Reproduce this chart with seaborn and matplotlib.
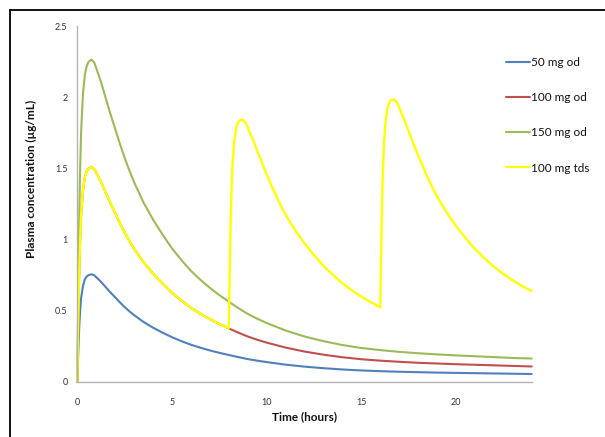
import matplotlib
matplotlib.use("Agg")
import matplotlib.pyplot as plt
from matplotlib.lines import Line2D
import seaborn as sns
import pandas as pd

# ---- data ----
series_names = ["50 mg od", "100 mg od", "150 mg od", "100 mg tds"]
series_colors = ["#4f81bd", "#c0504d", "#9bbb59", "#ffff00"]

time_od = [0, 0.05, 0.1, 0.15, 0.2, 0.3, 0.4, 0.5, 0.6, 0.75, 0.9, 1, 1.25, 1.5, 1.75,
           2, 2.25, 2.5, 2.75, 3, 3.5, 4, 4.5, 5, 5.5, 6, 6.5, 7, 7.5, 8, 8.5, 9, 9.5,
           10, 11, 12, 13, 14, 15, 16, 17, 18, 19, 20, 21, 22, 23, 24]
conc_50_od = [0, 0.2, 0.38, 0.5, 0.585, 0.675, 0.72, 0.74, 0.75, 0.755, 0.748, 0.735,
              0.703, 0.665, 0.628, 0.593, 0.558, 0.525, 0.495, 0.468, 0.42, 0.38, 0.345,
              0.313, 0.285, 0.26, 0.239, 0.22, 0.203, 0.188, 0.173, 0.159, 0.148, 0.138,
              0.12, 0.106, 0.095, 0.086, 0.079, 0.074, 0.07, 0.067, 0.064, 0.062, 0.06,
              0.058, 0.056, 0.054]
conc_100_od = [0, 0.4, 0.76, 1.0, 1.17, 1.35, 1.44, 1.48, 1.50, 1.51, 1.495, 1.47, 1.405,
               1.33, 1.255, 1.185, 1.115, 1.05, 0.99, 0.935, 0.84, 0.76, 0.69, 0.625,
               0.57, 0.52, 0.478, 0.44, 0.406, 0.375, 0.345, 0.318, 0.295, 0.275, 0.24,
               0.212, 0.19, 0.172, 0.158, 0.148, 0.14, 0.133, 0.128, 0.123, 0.119, 0.115,
               0.111, 0.107]
conc_150_od = [0, 0.6, 1.14, 1.5, 1.755, 2.025, 2.16, 2.22, 2.25, 2.265, 2.243, 2.205,
               2.108, 1.995, 1.883, 1.778, 1.673, 1.575, 1.485, 1.403, 1.26, 1.14, 1.035,
               0.938, 0.855, 0.78, 0.717, 0.66, 0.609, 0.563, 0.518, 0.477, 0.443, 0.413,
               0.36, 0.318, 0.285, 0.258, 0.237, 0.222, 0.21, 0.2, 0.192, 0.185, 0.179,
               0.173, 0.167, 0.163]

time_tds = [0, 0.05, 0.1, 0.15, 0.2, 0.3, 0.4, 0.5, 0.6, 0.75, 0.9, 1, 1.25, 1.5, 1.75,
            2, 2.25, 2.5, 2.75, 3, 3.5, 4, 4.5, 5, 5.5, 6, 6.5, 7, 7.5, 8,
            8.05, 8.1, 8.15, 8.2, 8.3, 8.4, 8.5, 8.6, 8.75, 8.9, 9, 9.25, 9.5, 9.75, 10,
            10.25, 10.5, 10.75, 11, 11.5, 12, 12.5, 13, 13.5, 14, 14.5, 15, 15.5, 16,
            16.05, 16.1, 16.15, 16.2, 16.3, 16.4, 16.5, 16.6, 16.75, 16.9, 17, 17.25,
            17.5, 17.75, 18, 18.25, 18.5, 18.75, 19, 19.5, 20, 20.5, 21, 21.5, 22, 22.5,
            23, 23.5, 24]
conc_100_tds = [0, 0.4, 0.76, 1.0, 1.17, 1.35, 1.44, 1.48, 1.50, 1.51, 1.495, 1.47, 1.405,
                1.33, 1.255, 1.185, 1.115, 1.05, 0.99, 0.935, 0.84, 0.76, 0.69, 0.625,
                0.57, 0.52, 0.478, 0.44, 0.406, 0.375,
                0.772, 1.129, 1.366, 1.533, 1.707, 1.791, 1.825, 1.84, 1.842, 1.819,
                1.788, 1.711, 1.625, 1.54, 1.46, 1.381, 1.307, 1.238, 1.175, 1.066, 0.972,
                0.891, 0.815, 0.751, 0.692, 0.643, 0.598, 0.559, 0.523,
                0.92, 1.276, 1.513, 1.679, 1.853, 1.936, 1.969, 1.983, 1.984, 1.96, 1.928,
                1.849, 1.762, 1.675, 1.593, 1.513, 1.438, 1.367, 1.303, 1.192, 1.095,
                1.012, 0.934, 0.868, 0.809, 0.758, 0.712, 0.672, 0.638]

x_ticks = [0, 5, 10, 15, 20]
y_ticks = [0, 0.5, 1, 1.5, 2, 2.5]
y_tick_labels = ["0", "0.5", "1", "1.5", "2", "2.5"]

# ---- build long table ----
frames = []
for name, t, c in [(series_names[0], time_od, conc_50_od),
                   (series_names[1], time_od, conc_100_od),
                   (series_names[2], time_od, conc_150_od),
                   (series_names[3], time_tds, conc_100_tds)]:
    frames.append(pd.DataFrame({"time": t, "conc": c, "regimen": name}))
df = pd.concat(frames, ignore_index=True)

sns.set_theme(style="white")
plt.rcParams["font.family"] = ["Lato", "DejaVu Sans"]

fig = plt.figure(figsize=(6.05, 4.37), dpi=100)
W, H = 605, 437
ax = fig.add_axes([77.3 / W, 1 - 381.7 / H, (531.7 - 77.3) / W, (381.7 - 26.2) / H])

palette = dict(zip(series_names, series_colors))
sns.lineplot(data=df, x="time", y="conc", hue="regimen", hue_order=series_names,
             palette=palette, estimator=None, sort=False, linewidth=1.5,
             legend=False, ax=ax)
for ln, lw in zip(ax.lines, [1.5, 1.5, 1.5, 1.7]):
    ln.set_linewidth(lw)
    ln.set_solid_joinstyle("round")
    ln.set_clip_on(False)

ax.set_xlim(0, 24)
ax.set_ylim(0, 2.5)
ax.set_xticks(x_ticks)
ax.set_xticklabels([str(v) for v in x_ticks])
ax.set_yticks(y_ticks)
ax.set_yticklabels(y_tick_labels)

for s in ["top", "right"]:
    ax.spines[s].set_visible(False)
for s in ["left", "bottom"]:
    ax.spines[s].set_color("#b3b3b3")
    ax.spines[s].set_linewidth(1.0)

ax.tick_params(axis="both", which="both", direction="out", length=3, width=0.8,
               color="#b3b3b3", labelsize=6.5, labelcolor="#333333")
ax.tick_params(axis="x", pad=9)
ax.tick_params(axis="y", pad=4)

ax.set_xlabel("Time (hours)", fontsize=8.5, fontweight="bold", color="#111111")
ax.set_ylabel("Plasma concentration (\u00b5g/mL)", fontsize=8.5, fontweight="bold",
              color="#111111")
ax.xaxis.set_label_coords(0.5, -0.083)
ax.yaxis.set_label_coords(-0.088, 0.57)

handles = [Line2D([0], [0], color=c, lw=1.5) for c in series_colors]
leg = fig.legend(handles, series_names, loc="upper left",
                 bbox_to_anchor=(506 / W, 1 - 57 / H), frameon=False,
                 fontsize=8.5, handlelength=2.0, handletextpad=0.1,
                 labelspacing=2.05, borderpad=0, borderaxespad=0)
for t in leg.get_texts():
    t.set_color("#111111")

# cropped black frame around the picture
fig.add_artist(Line2D([10 / W, 1], [1 - 10 / H, 1 - 10 / H], color="black", lw=1.3,
                      transform=fig.transFigure))
fig.add_artist(Line2D([10 / W, 10 / W], [0, 1 - 10 / H], color="black", lw=1.3,
                      transform=fig.transFigure))

fig.savefig("out.png", dpi=100)
